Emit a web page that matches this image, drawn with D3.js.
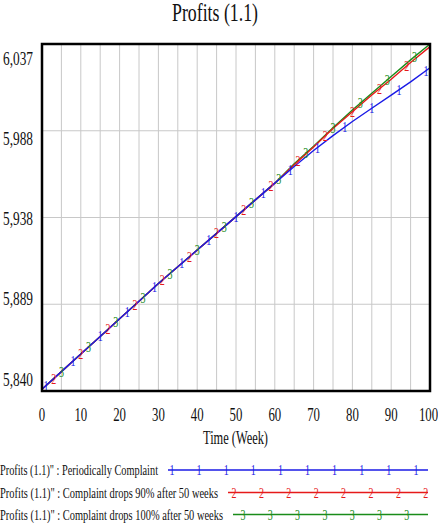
<!DOCTYPE html>
<html>
<head>
<meta charset="utf-8">
<script src="https://cdn.jsdelivr.net/npm/d3@7"></script>
<style>
  html, body { margin: 0; padding: 0; background: #fff; }
  svg { display: block; }
  text { font-family: "Liberation Serif", "Times New Roman", serif; fill: #111; }
</style>
</head>
<body>
<svg id="chart" width="438" height="528"></svg>
<script>
// ---- data ----
const weeks = [0, 5, 10, 15, 20, 25, 30, 35, 40, 45, 50, 55, 60, 65, 70, 75, 80, 85, 90, 95, 100];
const periodically = [5841, 5851, 5861, 5871, 5881, 5891, 5901, 5910.5, 5920, 5929.5, 5939, 5948.5, 5958, 5967.5, 5976.5, 5985, 5993, 6000.5, 6008, 6015.5, 6023.5];
const drops90 = [5841, 5851, 5861, 5871, 5881, 5891, 5901, 5910.5, 5920, 5929.5, 5939, 5948.5, 5958, 5968.5, 5978.5, 5989, 5998.5, 6008, 6017, 6026.5, 6035.5];
const drops100 = [5841, 5851, 5861, 5871, 5881, 5891, 5901, 5910.5, 5920, 5929.5, 5939, 5948.5, 5958, 5969, 5979, 5989.5, 5999.5, 6009, 6018.5, 6028, 6037];
const seriesNames = [
  "Profits (1.1)\" : Periodically Complaint",
  "Profits (1.1)\" : Complaint drops 90% after 50 weeks",
  "Profits (1.1)\" : Complaint drops 100% after 50 weeks"
];
const seriesColors = ["#1a1ae6", "#e61a1a", "#1a8c1a"];
const seriesMarks = ["1", "2", "3"];
const markerWeeks1 = [1, 8, 15, 22, 29, 36, 43, 50, 57, 64, 71, 78, 85, 92, 99];
const markerWeeks2 = [3, 10, 17, 24, 31, 38, 45, 52, 59, 66, 73, 80, 87, 94];
const markerWeeks3 = [5, 12, 19, 26, 33, 40, 47, 54, 61, 68, 75, 82, 89, 96];
const xTicks = [0, 10, 20, 30, 40, 50, 60, 70, 80, 90, 100];
const xGrid = d3.range(0, 101, 5);
const yTicks = [5840, 5889.25, 5938.5, 5987.75, 6037];
const yTickLabels = ["5,840", "5,889", "5,938", "5,988", "6,037"];
const title = "Profits (1.1)";
const xTitle = "Time (Week)";

// ---- chart ----
const svg = d3.select("#chart");
const x = d3.scaleLinear().domain([0, 100]).range([42, 430]);
const y = d3.scaleLinear().domain([5840, 6037]).range([391, 44]);
const yLab = d3.scaleLinear().domain([5840, 6037]).range([379, 58]);

// gridlines
svg.append("g").selectAll("line").data(xGrid.slice(1, -1)).join("line")
  .attr("x1", d => x(d)).attr("x2", d => x(d))
  .attr("y1", y.range()[1]).attr("y2", y.range()[0])
  .attr("stroke", "#c8c8c8").attr("stroke-width", 1);
svg.append("g").selectAll("line").data(yTicks.slice(1, -1)).join("line")
  .attr("x1", x.range()[0]).attr("x2", x.range()[1])
  .attr("y1", d => y(d)).attr("y2", d => y(d))
  .attr("stroke", "#c8c8c8").attr("stroke-width", 1.2);

// series
const allSeries = [periodically, drops90, drops100];
const allMarkers = [markerWeeks1, markerWeeks2, markerWeeks3];
const line = d3.line().x(d => x(d[0])).y(d => y(d[1]));
const plot = svg.append("g");
const order = [2, 1, 0];
order.forEach(i => {
  const pts = weeks.map((w, k) => [w, allSeries[i][k]]);
  plot.append("path").datum(pts)
    .attr("d", line).attr("fill", "none")
    .attr("stroke", seriesColors[i]).attr("stroke-width", 1.4);
});
function valueAt(vals, w) {
  const k = Math.min(weeks.length - 2, Math.max(0, d3.bisectRight(weeks, w) - 1));
  const t = (w - weeks[k]) / (weeks[k + 1] - weeks[k]);
  return d3.interpolateNumber(vals[k], vals[k + 1])(t);
}
order.forEach(i => {
  plot.append("g").selectAll("text").data(allMarkers[i]).join("text")
    .attr("x", d => x(d))
    .attr("y", d => y(valueAt(allSeries[i], d)) + 5)
    .attr("text-anchor", "middle")
    .attr("font-size", 15)
    .attr("textLength", 5).attr("lengthAdjust", "spacingAndGlyphs")
    .style("fill", seriesColors[i])
    .text(seriesMarks[i]);
});

// frame
svg.append("rect")
  .attr("x", x.range()[0]).attr("y", y.range()[1])
  .attr("width", x.range()[1] - x.range()[0]).attr("height", y.range()[0] - y.range()[1])
  .attr("fill", "none").attr("stroke", "#000").attr("stroke-width", 2.5);

// title
svg.append("text").attr("x", 215).attr("y", 21)
  .attr("text-anchor", "middle").attr("font-size", 25)
  .attr("textLength", 86).attr("lengthAdjust", "spacingAndGlyphs")
  .text(title);

// y labels
svg.append("g").selectAll("text").data(yTicks).join("text")
  .attr("x", 33).attr("y", d => yLab(d) + 6.5)
  .attr("text-anchor", "end").attr("font-size", 19)
  .attr("textLength", 30).attr("lengthAdjust", "spacingAndGlyphs")
  .text((d, i) => yTickLabels[i]);

// x labels
svg.append("g").selectAll("text").data(xTicks).join("text")
  .attr("x", d => d === 100 ? x(d) - 1.5 : x(d)).attr("y", 420.5)
  .attr("text-anchor", "middle").attr("font-size", 19)
  .attr("textLength", d => String(d).length * 6.4).attr("lengthAdjust", "spacingAndGlyphs")
  .text(d => d);

// x title
svg.append("text").attr("x", 235.5).attr("y", 444)
  .attr("text-anchor", "middle").attr("font-size", 19)
  .attr("textLength", 65).attr("lengthAdjust", "spacingAndGlyphs")
  .text(xTitle);

// legend
const legY = [470, 492.5, 514.5];
const legTextW = [158, 218, 223];
const legMarkStart = [172, 234, 243];
const legMarkCount = [10, 8, 7];
const legMarkStep = [27.1, 27.4, 27.3];
seriesNames.forEach((name, i) => {
  const g = svg.append("g");
  g.append("text").attr("x", 0).attr("y", legY[i] + 5)
    .attr("font-size", 15)
    .attr("textLength", legTextW[i]).attr("lengthAdjust", "spacingAndGlyphs")
    .text(name);
  g.append("line")
    .attr("x1", legTextW[i] + 10).attr("x2", 428)
    .attr("y1", legY[i]).attr("y2", legY[i])
    .attr("stroke", seriesColors[i]).attr("stroke-width", 1.4);
  g.selectAll("text.m").data(d3.range(legMarkCount[i])).join("text")
    .attr("class", "m")
    .attr("x", k => legMarkStart[i] + k * legMarkStep[i])
    .attr("y", legY[i] + 5)
    .attr("text-anchor", "middle").attr("font-size", 15)
    .attr("textLength", 5).attr("lengthAdjust", "spacingAndGlyphs")
    .style("fill", seriesColors[i])
    .text(seriesMarks[i]);
});
</script>
</body>
</html>
